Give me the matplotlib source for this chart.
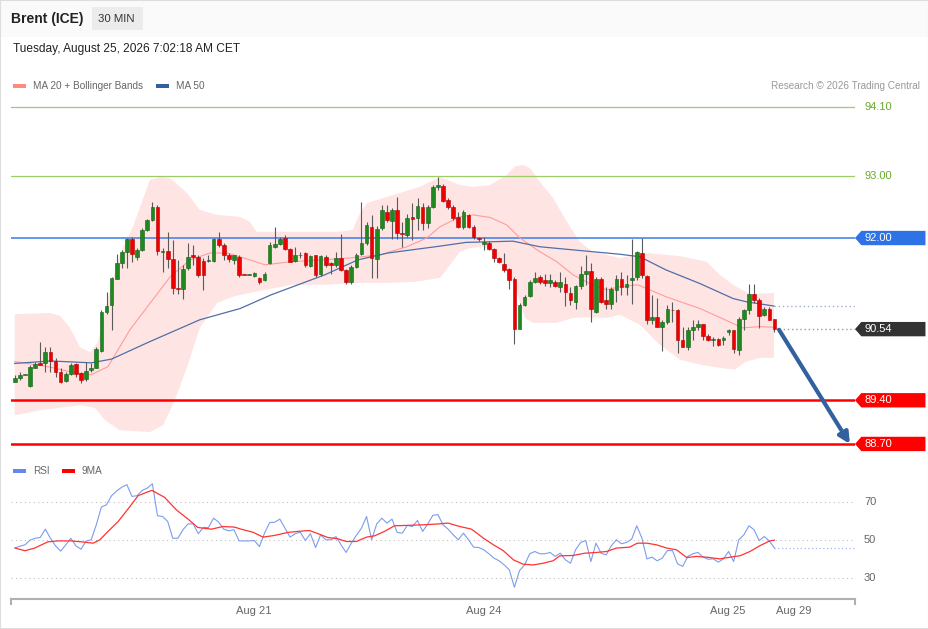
import numpy as np
import matplotlib
matplotlib.use('Agg')
import matplotlib.pyplot as plt
from matplotlib.patches import Polygon, Rectangle
from matplotlib.transforms import blended_transform_factory

plt.rcParams['font.family'] = ['Liberation Sans', 'DejaVu Sans']

# ---- 30 min candles ----
opens = [89.70, 89.76, 89.81, 89.63, 89.92, 89.99, 89.99, 90.18, 90.03, 89.86,
         89.71, 89.82, 89.98, 89.83, 89.74, 89.88, 89.92, 90.19, 90.82, 90.92,
         91.35, 91.60, 91.78, 91.98, 91.70, 91.81, 92.13, 92.29, 92.50, 91.77,
         91.79, 91.67, 91.20, 91.19, 91.52, 91.73, 91.70, 91.63, 91.63, 91.63,
         91.98, 91.89, 91.73, 91.65, 91.70, 91.42, 91.41, 91.39, 91.36, 91.33,
         91.60, 91.85, 91.90, 92.00, 91.82, 91.63, 91.72, 91.76, 91.55, 91.72,
         91.42, 91.70, 91.60, 91.57, 91.68, 91.49, 91.30, 91.54, 91.74, 91.92,
         92.18, 91.67, 92.16, 92.42, 92.28, 92.45, 92.08, 92.05, 92.33, 92.32,
         92.50, 92.24, 92.50, 92.81, 92.84, 92.61, 92.50, 92.33, 92.18, 92.37,
         92.18, 92.00, 91.90, 91.92, 91.82, 91.68, 91.58, 91.50, 91.34, 90.55,
         90.93, 91.07, 91.30, 91.37, 91.32, 91.28, 91.29, 91.22, 91.27, 91.12,
         90.98, 91.23, 91.43, 91.47, 90.82, 91.34, 91.01, 90.94, 91.17, 91.35,
         91.21, 91.33, 91.37, 91.76, 91.39, 90.69, 90.73, 90.58, 90.65, 90.85,
         90.84, 90.37, 90.26, 90.53, 90.58, 90.62, 90.43, 90.36, 90.38, 90.36,
         90.50, 90.53, 90.20, 90.71, 90.85, 91.10, 91.01, 90.77, 90.86, 90.70]
highs = [89.81, 89.85, 89.82, 89.97, 90.02, 90.34, 90.26, 90.26, 90.07, 89.91,
         89.86, 90.00, 90.00, 89.86, 90.02, 90.00, 90.26, 90.85, 91.13, 91.38,
         91.74, 91.81, 92.00, 92.01, 91.84, 92.16, 92.30, 92.57, 92.53, 91.84,
         92.10, 91.97, 91.65, 91.56, 91.92, 91.89, 91.73, 91.68, 91.73, 92.00,
         92.09, 91.92, 91.76, 91.73, 91.72, 91.43, 91.43, 91.46, 91.38, 91.45,
         91.94, 92.18, 92.01, 92.05, 91.84, 91.86, 91.77, 91.77, 91.73, 91.73,
         91.73, 91.73, 91.62, 91.78, 92.06, 91.50, 91.56, 91.76, 92.58, 92.26,
         92.37, 92.20, 92.53, 92.53, 92.48, 92.65, 92.26, 92.38, 92.56, 92.64,
         92.56, 92.53, 92.85, 92.97, 92.86, 92.64, 92.53, 92.42, 92.45, 92.39,
         92.21, 92.02, 92.02, 91.95, 91.84, 91.70, 91.76, 91.52, 91.38, 90.96,
         91.09, 91.33, 91.46, 91.41, 91.43, 91.42, 91.33, 91.46, 91.38, 91.22,
         91.25, 91.55, 91.73, 91.60, 91.38, 91.38, 91.22, 91.22, 91.41, 91.46,
         91.41, 91.98, 91.79, 92.00, 91.41, 91.09, 91.04, 90.69, 90.93, 90.98,
         90.86, 90.58, 90.58, 90.69, 90.69, 90.63, 90.47, 90.41, 90.39, 90.43,
         90.55, 90.53, 90.74, 90.87, 91.27, 91.27, 91.04, 90.90, 90.90, 90.71]
lows = [89.69, 89.73, 89.80, 89.61, 89.91, 89.96, 89.86, 89.86, 89.78, 89.67,
        89.70, 89.81, 89.78, 89.67, 89.71, 89.86, 89.91, 90.18, 90.79, 90.53,
        91.34, 91.52, 91.52, 91.62, 91.65, 91.80, 92.11, 92.27, 91.73, 91.46,
        91.52, 91.10, 91.11, 91.02, 91.49, 91.57, 91.38, 91.17, 91.62, 91.62,
        91.85, 91.65, 91.62, 91.58, 91.38, 91.40, 91.40, 91.38, 91.26, 91.31,
        91.58, 91.84, 91.89, 91.81, 91.61, 91.61, 91.68, 91.54, 91.54, 91.38,
        91.39, 91.54, 91.43, 91.54, 91.47, 91.26, 91.26, 91.52, 91.73, 91.89,
        91.36, 91.36, 92.13, 92.26, 91.99, 91.99, 91.86, 92.02, 91.97, 92.13,
        92.13, 92.16, 92.48, 92.77, 92.58, 92.46, 92.29, 92.16, 92.15, 92.16,
        91.99, 91.95, 91.81, 91.81, 91.62, 91.60, 91.46, 91.18, 90.30, 90.54,
        90.91, 91.06, 91.28, 91.27, 91.23, 91.22, 91.21, 91.14, 90.91, 90.93,
        90.87, 91.19, 91.25, 90.66, 90.80, 90.96, 90.86, 90.87, 90.98, 91.09,
        91.09, 90.94, 91.33, 91.36, 90.63, 90.63, 90.57, 90.19, 90.63, 90.66,
        90.16, 90.25, 90.21, 90.37, 90.53, 90.37, 90.35, 90.27, 90.27, 90.29,
        90.45, 90.15, 90.13, 90.53, 90.79, 90.96, 90.56, 90.75, 90.68, 90.50]
closes = [89.75, 89.80, 89.82, 89.93, 89.98, 89.97, 90.18, 90.03, 89.86, 89.69,
          89.82, 89.97, 89.82, 89.73, 89.87, 89.91, 90.22, 90.82, 90.91, 91.36,
          91.60, 91.78, 91.98, 91.74, 91.81, 92.13, 92.29, 92.50, 91.79, 91.80,
          91.66, 91.20, 91.19, 91.51, 91.70, 91.70, 91.41, 91.41, 91.65, 91.98,
          91.89, 91.73, 91.66, 91.72, 91.41, 91.41, 91.42, 91.44, 91.29, 91.42,
          91.89, 91.90, 91.98, 91.82, 91.62, 91.72, 91.73, 91.57, 91.71, 91.41,
          91.71, 91.57, 91.57, 91.68, 91.49, 91.29, 91.54, 91.73, 91.92, 92.21,
          91.68, 92.15, 92.45, 92.29, 92.45, 92.08, 92.06, 92.32, 92.30, 92.52,
          92.24, 92.49, 92.81, 92.85, 92.59, 92.49, 92.32, 92.18, 92.41, 92.18,
          92.01, 91.99, 91.93, 91.82, 91.68, 91.61, 91.49, 91.33, 90.54, 90.93,
          91.06, 91.29, 91.36, 91.30, 91.28, 91.33, 91.23, 91.30, 91.13, 91.00,
          91.23, 91.42, 91.47, 90.87, 91.35, 90.98, 90.94, 91.19, 91.35, 91.21,
          91.26, 91.36, 91.77, 91.41, 90.68, 90.73, 90.58, 90.65, 90.86, 90.84,
          90.37, 90.26, 90.53, 90.58, 90.62, 90.43, 90.37, 90.38, 90.29, 90.39,
          90.53, 90.22, 90.71, 90.84, 91.11, 91.01, 90.75, 90.86, 90.69, 90.54]

# ---- indicators, read at points along the lines (x = candle number) ----
ma20_x = [0, 5.9, 11.8, 15.0, 18.3, 22.6, 26.5, 30.5, 34.4, 38.3, 41.6, 46.1, 49.1, 54.0,
          60.5, 65.7, 71.6, 76.9, 80.8, 83.4, 87.3, 89.9, 93.2, 96.5, 99.1, 103.0, 106.3,
          109.5, 112.8, 116.1, 118.7, 122.2, 127.7, 134.4, 140.9, 142.8, 146.1, 148.9]
ma20_y = [90.02, 89.95, 89.84, 89.81, 89.94, 90.53, 90.95, 91.38, 91.65, 91.76, 91.76, 91.65,
          91.57, 91.62, 91.65, 91.68, 91.73, 91.86, 92.00, 92.18, 92.34, 92.37, 92.33, 92.21,
          92.00, 91.78, 91.62, 91.41, 91.27, 91.17, 91.22, 91.25, 91.06, 90.87, 90.63, 90.56,
          90.58, 90.57]

ma50_x = [0, 7, 15, 19, 26.5, 36.3, 44.2, 50.3, 60.8, 67.3, 73.2, 83.4, 88.5, 93.2, 97.7,
          103.0, 109.5, 118.7, 122.6, 127.7, 134.4, 140.9, 143.4, 148.9]
ma50_y = [89.99, 90.03, 90.00, 90.06, 90.34, 90.69, 90.87, 91.09, 91.41, 91.65, 91.76, 91.87,
          91.93, 91.94, 91.95, 91.86, 91.81, 91.74, 91.70, 91.49, 91.27, 91.03, 90.98, 90.91]

bb_up_x = [0, 6.9, 8.9, 10.8, 12.8, 14.8, 16.3, 18.7, 20.6, 23.2, 26.5, 28.5, 30.5, 33.8,
           36.3, 39.7, 44.2, 46.1, 47.5, 63.8, 66.3, 67.7, 69.1, 73.0, 79.5, 83.4, 87.3,
           89.9, 93.2, 96.5, 98.1, 99.7, 101.1, 103.0, 105.6, 108.3, 110.8, 113.4, 118.7,
           124.0, 130.5, 135.7, 138.3, 140.9, 144.2, 148.9]
bb_up_y = [90.78, 90.80, 90.75, 90.57, 90.25, 90.17, 90.33, 91.17, 91.73, 92.18, 92.93, 92.98,
           92.96, 92.72, 92.45, 92.37, 92.34, 92.26, 92.10, 92.10, 92.13, 92.40, 92.56, 92.66,
           92.82, 92.98, 92.85, 92.82, 92.85, 93.01, 93.15, 93.17, 93.12, 92.90, 92.64, 92.26,
           91.94, 91.78, 91.68, 91.76, 91.71, 91.62, 91.41, 91.25, 91.10, 91.12]
bb_lo_x = [0, 5.0, 8.9, 12.8, 15.7, 17.7, 20.6, 26.5, 29.1, 31.4, 33.8, 36.3, 39.7, 43.2,
           46.1, 54.2, 60.8, 67.3, 73.2, 78.7, 83.4, 85.4, 87.3, 89.3, 91.8, 93.8, 96.5,
           97.7, 99.1, 100.1, 101.6, 106.3, 109.5, 112.8, 116.1, 118.7, 122.6, 126.5, 130.5,
           134.4, 138.3, 141.2, 143.2, 146.1, 148.9]
bb_lo_y = [89.16, 89.24, 89.28, 89.32, 89.28, 89.08, 88.92, 88.89, 89.00, 89.40, 89.93, 90.56,
           90.96, 91.07, 91.12, 91.25, 91.25, 91.28, 91.28, 91.30, 91.36, 91.57, 91.78, 91.84,
           91.86, 91.78, 91.52, 91.30, 90.97, 90.72, 90.64, 90.64, 90.72, 90.73, 90.72, 90.77,
           90.61, 90.29, 90.05, 89.97, 89.92, 89.89, 90.01, 90.08, 90.08]

rsi = [45.8, 46.8, 47.5, 50.0, 51.0, 51.4, 55.8, 51.0, 47.0, 44.2,
       47.5, 51.0, 47.0, 45.2, 49.5, 50.2, 58.1, 67.5, 68.7, 73.5,
       76.0, 78.0, 79.3, 73.1, 73.5, 76.3, 77.5, 79.8, 62.9, 62.5,
       59.9, 51.0, 51.0, 55.5, 58.6, 58.6, 53.4, 56.7, 56.7, 61.6,
       59.5, 55.8, 54.9, 55.5, 49.6, 49.6, 49.6, 49.8, 46.6, 53.7,
       59.3, 59.5, 61.1, 56.3, 51.6, 53.4, 54.2, 49.8, 53.4, 46.1,
       52.8, 50.2, 50.2, 51.9, 47.5, 43.5, 48.4, 52.5, 56.3, 62.5,
       50.2, 58.6, 61.6, 59.0, 61.1, 54.1, 53.7, 57.8, 57.2, 60.4,
       54.6, 58.5, 63.1, 63.5, 58.1, 55.8, 52.8, 50.2, 53.7, 50.2,
       46.3, 46.1, 44.9, 42.8, 40.5, 39.1, 36.9, 34.3, 25.1, 33.9,
       36.9, 42.8, 44.0, 42.8, 42.8, 43.5, 41.4, 43.1, 39.6, 37.8,
       44.9, 48.8, 49.8, 38.7, 48.4, 43.1, 42.2, 47.0, 50.2, 48.1,
       48.8, 50.5, 57.6, 51.1, 40.1, 41.0, 39.1, 40.5, 44.5, 44.5,
       37.5, 36.1, 41.4, 42.8, 43.5, 41.0, 39.9, 40.1, 38.4, 40.1,
       44.0, 38.7, 50.2, 52.8, 57.6, 55.5, 49.8, 51.9, 49.6, 45.8]

rsi_ma_x = [0.1, 2.0, 3.9, 6.5, 8.5, 11.1, 13.1, 15.4, 16.7, 18.3, 20.3, 22.2, 24.2, 25.8,
            26.9, 29.4, 31.7, 34.0, 35.9, 38.6, 40.8, 43.1, 44.4, 46.7, 48.7, 51.0, 53.6,
            55.5, 57.8, 59.5, 61.4, 63.4, 65.0, 67.0, 69.0, 70.6, 72.5, 74.5, 77.0, 80.0,
            82.7, 85.0, 87.3, 89.6, 91.9, 93.9, 95.8, 97.8, 99.7, 101.7, 103.6, 105.6,
            106.9, 109.5, 111.8, 114.1, 116.1, 118.0, 120.6, 122.1, 124.0, 125.9, 127.9,
            129.8, 131.8, 133.7, 135.7, 138.3, 140.3, 142.2, 144.2, 146.1, 148.1, 149.0]
rsi_ma_y = [45.8, 44.4, 45.8, 49.1, 49.6, 49.6, 49.1, 48.4, 50.2, 54.6, 59.9, 66.4, 73.5, 75.2,
            76.3, 72.6, 66.0, 61.1, 56.7, 55.8, 57.2, 56.9, 55.8, 54.2, 51.6, 52.5, 54.1,
            54.6, 55.1, 53.4, 51.4, 50.7, 49.3, 49.3, 51.6, 52.3, 54.6, 57.6, 57.8, 58.1,
            58.5, 59.0, 57.2, 55.8, 51.1, 47.5, 44.5, 39.6, 37.3, 36.9, 37.8, 39.1,
            41.7, 41.9, 43.1, 43.5, 44.0, 45.8, 46.3, 48.4, 48.4, 47.5, 45.8,
            44.9, 40.8, 41.4, 41.0, 40.1, 41.0, 41.7, 44.0, 47.0, 49.6, 50.0]

# key levels and the projected move
levels = [94.10, 93.00, 92.00, 89.40, 88.70]
level_colors = ['#9ccc65', '#9ccc65', '#4a86e8', '#ff0000', '#ff0000']
level_widths = [0.9, 0.9, 1.2, 1.8, 1.8]
arrow_x = [149.9, 163.8]
arrow_y = [90.53, 88.70]

date_pos = [46.9, 92.0, 139.9, 152.8]
date_labels = ['Aug 21', 'Aug 24', 'Aug 25', 'Aug 29']

W, H = 929, 629
fig = plt.figure(figsize=(W / 100, H / 100), dpi=100)


def fx(x):
    return x / W


def fy(y):
    return 1 - y / H


x_lim = (-0.73, 164.8)

# ---- price panel ----
ax = fig.add_axes([fx(11), fy(455), (855 - 11) / W, (455 - 95) / H])
ax.set_xlim(*x_lim)
ax.set_ylim(88.523, 94.292)
ax.axis('off')

band = list(zip(bb_up_x, bb_up_y)) + list(zip(bb_lo_x, bb_lo_y))[::-1]
ax.add_patch(Polygon(band, closed=True, facecolor='#ffe4e4', edgecolor='none', zorder=1))

for lv, c, w in zip(levels, level_colors, level_widths):
    ax.axhline(lv, color=c, lw=w, zorder=2)

ax.plot(ma20_x, ma20_y, color='#ff9c9c', lw=0.8, zorder=3)
ax.plot(ma50_x, ma50_y, color='#4f6fa8', lw=0.9, zorder=3)

n = len(closes)
xs = np.arange(n)
o = np.array(opens)
c = np.array(closes)
up = c >= o
ax.vlines(xs, lows, highs, color='#5a5a5a', lw=0.8, zorder=4)
body_lo = np.minimum(o, c)
body_h = np.maximum(np.abs(c - o), 0.014)
ax.bar(xs[up], body_h[up], bottom=body_lo[up], width=0.72, color='#1e8a1e',
       edgecolor='#13601a', linewidth=0.4, zorder=5)
ax.bar(xs[~up], body_h[~up], bottom=body_lo[~up], width=0.72, color='#ee0000',
       edgecolor='#b00000', linewidth=0.4, zorder=5)

# dotted continuation of MA50 and last close
ax.plot([ma50_x[-1], x_lim[1]], [ma50_y[-1], ma50_y[-1]], ls=(0, (1, 2)),
        color='#9fb0d0', lw=1, zorder=2)
ax.plot([n - 0.2, x_lim[1]], [closes[-1], closes[-1]], ls=(0, (1, 2)),
        color='#999999', lw=1, zorder=2)

ax.annotate('', xy=(arrow_x[1], arrow_y[1]), xytext=(arrow_x[0], arrow_y[0]),
            arrowprops=dict(arrowstyle='-|>', color='#33609e', lw=3, mutation_scale=16,
                            shrinkA=0, shrinkB=0), zorder=6)

# right hand price labels
tr = blended_transform_factory(ax.transAxes, ax.transData)
hh = 0.115
boxed = {92.00: '#2e72e8', 89.40: '#ff0000', 88.70: '#ff0000', closes[-1]: '#333333'}
for lv in [94.10, 93.00]:
    ax.text(1.0107, lv, f'{lv:.2f}', transform=tr, va='center', ha='left',
            fontsize=8, color='#6aaa2a', clip_on=False)
for lv, col in boxed.items():
    pts = [(1.0, lv), (1.0075, lv + hh), (1.0835, lv + hh), (1.0835, lv - hh), (1.0075, lv - hh)]
    ax.add_patch(Polygon(pts, closed=True, transform=tr, facecolor=col, edgecolor='none',
                         clip_on=False, zorder=7))
    ax.text(1.0107, lv, f'{lv:.2f}', transform=tr, va='center', ha='left',
            fontsize=8, color='white', clip_on=False, zorder=8)

# ---- RSI panel ----
ax2 = fig.add_axes([fx(11), fy(599), (855 - 11) / W, (599 - 480) / H])
ax2.set_xlim(*x_lim)
ax2.set_ylim(18.9, 81.78)
for s in ['top', 'left', 'right']:
    ax2.spines[s].set_visible(False)
ax2.spines['bottom'].set_color('#b0b0b0')
ax2.spines['bottom'].set_linewidth(1.5)
ax2.set_yticks([])
for lv in [70, 50, 30]:
    ax2.axhline(lv, color='#c0c0c0', lw=0.8, ls=(0, (1, 3)), zorder=1)
    ax2.text(1.0107, lv, str(lv), transform=blended_transform_factory(ax2.transAxes, ax2.transData),
             va='center', ha='left', fontsize=8, color='#666666')
ax2.plot(xs, rsi, color='#7d9cec', lw=0.8, zorder=3)
ax2.plot(rsi_ma_x, rsi_ma_y, color='#ff3333', lw=0.9, zorder=3)
ax2.plot([n - 1, x_lim[1]], [rsi[-1], rsi[-1]], ls=(0, (1, 2)), color='#9fb4ee', lw=0.9)
for xe in [0, 1]:
    ax2.plot([xe, xe], [0, -0.045], transform=ax2.transAxes, color='#b0b0b0', lw=1.5,
             clip_on=False)
ax2.set_xticks(date_pos)
ax2.set_xticklabels(date_labels, fontsize=8, color='#666666')
ax2.tick_params(axis='x', length=0, pad=5)

# ---- header and legends ----
fig.patches.append(Rectangle((0, fy(37)), 1, 37 / H, transform=fig.transFigure,
                             facecolor='#fafafa', edgecolor='none', zorder=0))
fig.patches.append(Rectangle((fx(92), fy(30)), 51 / W, 23 / H, transform=fig.transFigure,
                             facecolor='#ececec', edgecolor='none', zorder=1))
fig.text(fx(11), fy(19), 'Brent (ICE)', fontsize=10, fontweight='bold', va='center',
         color='#222222')
fig.text(fx(98), fy(19), '30 MIN', fontsize=8.2, va='center', color='#333333')
fig.text(fx(13), fy(49), 'Tuesday, August 25, 2026 7:02:18 AM CET', fontsize=8.6,
         va='center', color='#222222')

legend_items = [(13, 86, '#ff8a80', 'MA 20 + Bollinger Bands'), (156, 86, '#35609f', 'MA 50'),
                (13, 471, '#6688ee', 'RSI'), (62, 471, '#ff0000', '9MA')]
for lx, ly, col, lab in legend_items:
    fig.patches.append(Rectangle((fx(lx), fy(ly + 2)), 13 / W, 4 / H, transform=fig.transFigure,
                                 facecolor=col, edgecolor='none'))
    fig.text(fx(lx + 20), fy(ly), lab, fontsize=7.2, va='center', color='#666666')
fig.text(fx(920), fy(86), 'Research \u00a9 2026 Trading Central', fontsize=7.2, va='center',
         ha='right', color='#999999')

fig.patches.append(Rectangle((0, 0), 1, 1, transform=fig.transFigure, facecolor='none',
                             edgecolor='#dddddd', lw=1.5))

fig.savefig('out.png', dpi=100)
